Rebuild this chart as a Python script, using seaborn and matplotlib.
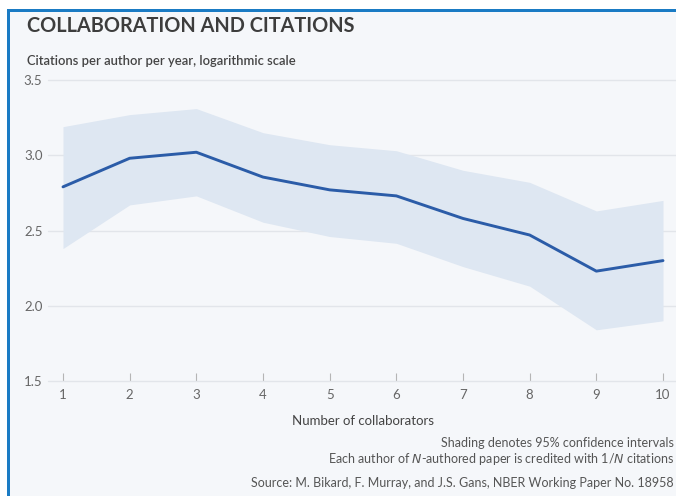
import matplotlib
matplotlib.use("Agg")
import matplotlib.pyplot as plt
import seaborn as sns
import pandas as pd
from matplotlib.patches import Rectangle

# data
collaborators = [1, 2, 3, 4, 5, 6, 7, 8, 9, 10]
citations = [2.79, 2.98, 3.02, 2.855, 2.77, 2.73, 2.58, 2.47, 2.23, 2.30]
upper = [3.19, 3.27, 3.31, 3.15, 3.07, 3.03, 2.90, 2.82, 2.63, 2.70]
lower = [2.38, 2.67, 2.73, 2.555, 2.46, 2.415, 2.26, 2.13, 1.84, 1.90]
yticks = [1.5, 2.0, 2.5, 3.0, 3.5]

df = pd.DataFrame({"n": collaborators, "cit": citations, "hi": upper, "lo": lower})

sns.set_style("white")
plt.rcParams["font.family"] = ["Lato", "DejaVu Sans"]

W, H = 676, 496
BG = "#f5f7fa"
fig = plt.figure(figsize=(W / 100, H / 100), dpi=100)
fig.patch.set_facecolor("white")

# panel background + blue border (top and left)
fig.patches.append(Rectangle((7 / W, 0), 1, 1 - 12 / H, transform=fig.transFigure,
                             facecolor=BG, edgecolor="none", zorder=-10))
fig.patches.append(Rectangle((7 / W, 1 - 12 / H), 1, 3 / H, transform=fig.transFigure,
                             facecolor="#1a7bc4", edgecolor="none", zorder=-9))
fig.patches.append(Rectangle((7 / W, 0), 3 / W, 1 - 9 / H, transform=fig.transFigure,
                             facecolor="#1a7bc4", edgecolor="none", zorder=-9))

# axes: 1 -> x=63, 10 -> x=663 ; 3.5 -> y=80, 1.5 -> y=381
left_px, right_px = 48, 676
px_per = (663 - 63) / 9
x0 = 1 - (63 - left_px) / px_per
x1 = 10 + (right_px - 663) / px_per
ax = fig.add_axes([left_px / W, 1 - 381 / H, (right_px - left_px) / W, (381 - 80) / H])
ax.set_facecolor("none")
ax.set_zorder(2)

ax.fill_between(df["n"], df["lo"], df["hi"], color="#dee7f2", lw=0, zorder=1)
sns.lineplot(data=df, x="n", y="cit", ax=ax, color="#2b5ca8", lw=2.1, zorder=3)

ax.set_xlim(x0, x1)
ax.set_ylim(1.5, 3.5)
ax.set_yticks(yticks)
ax.set_yticklabels([f"{v:.1f}" for v in yticks])
ax.set_xticks(collaborators)
ax.grid(axis="y", color="#e2e5ea", lw=1)
ax.grid(axis="x", visible=False)
for gl in ax.get_ygridlines():
    gl.set_clip_on(False)
for s in ax.spines.values():
    s.set_visible(False)
ax.tick_params(axis="y", left=False, length=0, pad=4, labelsize=9.5, labelcolor="#666666")
ax.tick_params(axis="x", bottom=True, direction="in", length=6, width=0.8, color="#b5b5b5",
               pad=6, labelsize=9.5, labelcolor="#666666")
ax.set_xlabel("Number of collaborators", fontsize=9.5, color="#444444")
ax.xaxis.set_label_coords((363 - left_px) / (right_px - left_px), -(415 - 381) / (381 - 80))
ax.set_ylabel("")

fig.text(27 / W, 1 - 26 / H, "COLLABORATION AND CITATIONS", fontsize=14.3, fontweight="bold",
         color="#3d3d3d", va="center", ha="left")
fig.text(27 / W, 1 - 61 / H, "Citations per author per year, logarithmic scale", fontsize=9.4,
         fontweight="semibold", color="#444444", va="center", ha="left")

rx = 674 / W
fig.text(rx, 1 - 443 / H, "Shading denotes 95% confidence intervals", fontsize=9,
         color="#555555", ha="right", va="center")
fig.text(rx, 1 - 459 / H, "Each author of $\\it{N}$-authored paper is credited with 1/$\\it{N}$ citations",
         fontsize=9, color="#555555", ha="right", va="center")
fig.text(rx, 1 - 483 / H, "Source: M. Bikard, F. Murray, and J.S. Gans, NBER Working Paper No. 18958",
         fontsize=9, color="#555555", ha="right", va="center")

fig.savefig("out.png", dpi=100, facecolor=fig.get_facecolor())
